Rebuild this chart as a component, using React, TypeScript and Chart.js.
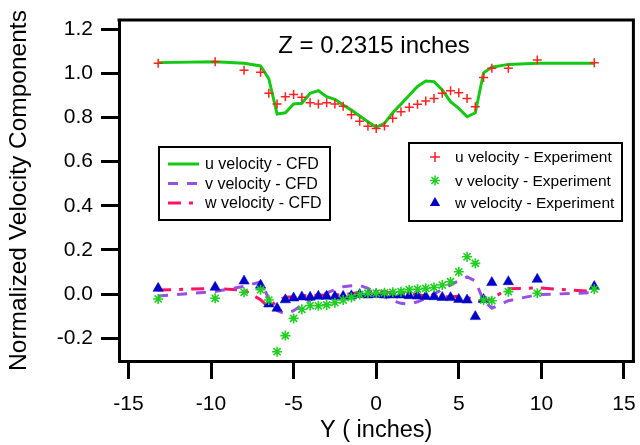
import React, { useEffect, useRef } from "react";
import { Chart, registerables } from "chart.js";

Chart.register(...registerables);

const FONT = "'Liberation Sans', Arial, Helvetica, sans-serif";

const yPos = [
  -13.2, -9.75, -8, -7, -6.5, -6, -5.5, -5, -4.5, -4, -3.5, -3, -2.5, -2, -1.5, -1, -0.5, 0,
  0.5, 1, 1.5, 2, 2.5, 3, 3.5, 4, 4.5, 5, 5.5, 6, 6.5, 7, 8, 9.75, 13.2,
];

const uCfd = [
  1.048, 1.052, 1.045, 1.033, 0.975, 0.815, 0.821, 0.861, 0.864, 0.909, 0.921, 0.894, 0.882, 0.856,
  0.833, 0.806, 0.78, 0.755, 0.773, 0.821, 0.86, 0.9, 0.94, 0.965, 0.962, 0.924, 0.871, 0.841, 0.803,
  0.821, 1.002, 1.027, 1.04, 1.045, 1.045,
];
const vCfd = [
  -0.009, 0.012, 0.035, 0.055, -0.02, -0.075, -0.09, -0.075, -0.05, -0.027, -0.01, 0.005, 0.02, 0.033,
  0.038, 0.04, 0.026, 0.005, -0.013, -0.03, -0.042, -0.045, -0.035, -0.02, 0.0, 0.022, 0.042, 0.06,
  0.078, 0.06, -0.03, -0.064, -0.03, -0.003, 0.007,
];
const wCfd = [
  0.018, 0.026, 0.018, -0.025, -0.06, -0.03, -0.014, -0.012, -0.008, -0.006, -0.005, -0.004, -0.003,
  -0.002, 0.002, 0.008, 0.01, 0.012, 0.01, 0.006, 0.004, 0.003, -0.003, -0.009, -0.012, -0.013, -0.012,
  -0.01, -0.015, -0.027, -0.035, -0.02, 0.024, 0.028, 0.012,
];
const uExp = [
  1.045, 1.052, 1.014, 1.004, 0.909, 0.861, 0.894, 0.904, 0.891, 0.866, 0.861, 0.866, 0.861, 0.85,
  0.812, 0.782, 0.76, 0.75, 0.761, 0.796, 0.826, 0.846, 0.859, 0.874, 0.886, 0.909, 0.921, 0.912,
  0.886, 0.848, 0.981, 1.022, 1.022, 1.06, 1.048,
];
const vExp = [
  -0.022, -0.019, 0.008, 0.02, -0.027, -0.261, -0.188, -0.11, -0.069, -0.052, -0.053, -0.049, -0.039,
  -0.027, -0.015, -0.002, 0.004, 0.004, 0.006, 0.008, 0.011, 0.02, 0.022, 0.026, 0.03, 0.041, 0.056,
  0.101, 0.169, 0.139, -0.027, -0.03, 0.011, 0.004, 0.022,
];
const wExp = [
  0.026, 0.031, 0.059, 0.04, -0.045, -0.064, -0.026, -0.018, -0.013, -0.014, -0.01, -0.01, -0.011,
  -0.01, -0.008, -0.002, -0.004, -0.002, -0.004, -0.004, -0.004, -0.007, -0.009, -0.011, -0.012,
  -0.015, -0.016, -0.024, -0.027, -0.102, -0.024, 0.052, 0.056, 0.067, 0.034,
];

const xTicks = [-15, -10, -5, 0, 5, 10, 15];
const yTicks = [-0.2, 0.0, 0.2, 0.4, 0.6, 0.8, 1.0, 1.2];

const titleText = "Z = 0.2315 inches";
const cfdLabels = ["u velocity - CFD", "v velocity - CFD", "w velocity - CFD"];
const expLabels = ["u velocity - Experiment", "v velocity - Experiment", "w velocity - Experiment"];

const GREEN = "#14c814";
const PURPLE = "#9650e6";
const PINK = "#ff1464";
const RED = "#ff2020";
const GREEN2 = "#20d020";
const BLUE = "#0000c8";

const pts = (vals: number[]) => yPos.map((x, i) => ({ x, y: vals[i] }));

const overlayPlugin = {
  id: "overlay",
  afterDraw(chart: any) {
    const ctx = chart.ctx as CanvasRenderingContext2D;
    const a = chart.chartArea;
    ctx.save();
    // box top & right
    ctx.strokeStyle = "#000";
    ctx.lineWidth = 3;
    ctx.beginPath();
    ctx.moveTo(a.left - 1.5, a.top);
    ctx.lineTo(a.right, a.top);
    ctx.lineTo(a.right, a.bottom + 1.5);
    ctx.stroke();

    // title
    ctx.fillStyle = "#000";
    ctx.font = `24px ${FONT}`;
    ctx.textAlign = "center";
    ctx.textBaseline = "alphabetic";
    ctx.fillText(titleText, 374, 53);

    // left legend
    ctx.font = `16px ${FONT}`;
    ctx.textAlign = "left";
    ctx.textBaseline = "middle";
    ctx.fillStyle = "#fff";
    ctx.fillRect(159, 147, 171, 73);
    ctx.lineWidth = 2;
    ctx.strokeStyle = "#000";
    ctx.strokeRect(159, 147, 171, 73);
    const lrows = [164, 183.5, 203];
    const lstyles = [
      { c: GREEN, d: [] as number[] },
      { c: PURPLE, d: [10, 9] },
      { c: PINK, d: [13, 8, 4, 8] },
    ];
    lrows.forEach((ry, i) => {
      ctx.strokeStyle = lstyles[i].c;
      ctx.lineWidth = 3;
      ctx.setLineDash(lstyles[i].d);
      ctx.beginPath();
      ctx.moveTo(168, ry);
      ctx.lineTo(199, ry);
      ctx.stroke();
      ctx.setLineDash([]);
      ctx.fillStyle = "#000";
      ctx.fillText(cfdLabels[i], 205, ry + 1);
    });

    // right legend
    ctx.font = `15.5px ${FONT}`;
    ctx.fillStyle = "#fff";
    ctx.fillRect(409, 143, 213, 78);
    ctx.lineWidth = 2;
    ctx.strokeStyle = "#000";
    ctx.strokeRect(409, 143, 213, 78);
    const rrows = [157, 180.5, 203];
    const mx = 435;
    // plus
    ctx.strokeStyle = RED;
    ctx.lineWidth = 1.5;
    ctx.beginPath();
    ctx.moveTo(mx - 5, rrows[0]);
    ctx.lineTo(mx + 5, rrows[0]);
    ctx.moveTo(mx, rrows[0] - 5);
    ctx.lineTo(mx, rrows[0] + 5);
    ctx.stroke();
    // asterisk
    ctx.strokeStyle = GREEN2;
    ctx.beginPath();
    for (let k = 0; k < 4; k++) {
      const ang = (k * Math.PI) / 4;
      ctx.moveTo(mx - 5 * Math.cos(ang), rrows[1] - 5 * Math.sin(ang));
      ctx.lineTo(mx + 5 * Math.cos(ang), rrows[1] + 5 * Math.sin(ang));
    }
    ctx.stroke();
    // triangle
    ctx.fillStyle = BLUE;
    const r = 6;
    ctx.beginPath();
    ctx.moveTo(mx, rrows[2] - r);
    ctx.lineTo(mx + r * 0.866, rrows[2] + r / 2);
    ctx.lineTo(mx - r * 0.866, rrows[2] + r / 2);
    ctx.closePath();
    ctx.fill();
    ctx.fillStyle = "#000";
    rrows.forEach((ry, i) => ctx.fillText(expLabels[i], 455, ry + 1));
    ctx.restore();
  },
};

export default function App() {
  const ref = useRef<HTMLCanvasElement | null>(null);
  useEffect(() => {
    if (!ref.current) return;
    const chart = new Chart(ref.current, {
      type: "line",
      data: {
        datasets: [
          {
            label: "u velocity - Experiment",
            data: pts(uExp),
            showLine: false,
            pointStyle: "cross",
            pointRadius: 4.5,
            borderColor: RED,
            backgroundColor: RED,
            pointBorderWidth: 1.5,
            order: 0,
          },
          {
            label: "v velocity - Experiment",
            data: pts(vExp),
            showLine: false,
            pointStyle: "star",
            pointRadius: 5,
            borderColor: GREEN2,
            backgroundColor: GREEN2,
            pointBorderWidth: 1.6,
            order: 0,
          },
          {
            label: "w velocity - Experiment",
            data: pts(wExp),
            showLine: false,
            pointStyle: "triangle",
            pointRadius: 6,
            borderColor: BLUE,
            backgroundColor: BLUE,
            pointBorderWidth: 0.5,
            order: 0,
          },
          {
            label: "u velocity - CFD",
            data: pts(uCfd),
            borderColor: GREEN,
            borderWidth: 3,
            pointRadius: 0,
            tension: 0,
            order: 1,
          },
          {
            label: "v velocity - CFD",
            data: pts(vCfd),
            borderColor: PURPLE,
            borderWidth: 3,
            borderDash: [10, 9],
            pointRadius: 0,
            tension: 0,
            order: 1,
          },
          {
            label: "w velocity - CFD",
            data: pts(wCfd),
            borderColor: PINK,
            borderWidth: 3,
            borderDash: [13, 8, 4, 8],
            pointRadius: 0,
            tension: 0,
            order: 1,
          },
        ],
      },
      options: {
        animation: false,
        responsive: false,
        devicePixelRatio: 1,
        layout: { padding: { top: 20, right: 5, left: 0, bottom: 0 } },
        plugins: { legend: { display: false }, tooltip: { enabled: false }, title: { display: false } },
        scales: {
          x: {
            type: "linear",
            min: -15.57,
            max: 15.57,
            afterBuildTicks: (s: any) => {
              s.ticks = xTicks.map((v) => ({ value: v }));
            },
            afterFit: (s: any) => {
              s.height = 84;
              s.paddingLeft = 0;
              s.paddingRight = 0;
            },
            ticks: {
              font: { size: 21, family: FONT },
              color: "#000",
              padding: 13,
              maxRotation: 0,
              callback: (v: any) => String(v),
            },
            grid: { drawOnChartArea: false, drawTicks: true, tickLength: 18, lineWidth: 3, color: "#000" },
            border: { display: true, width: 3, color: "#000" },
            title: {
              display: true,
              text: "Y ( inches)",
              font: { size: 23.5, family: FONT },
              color: "#000",
              padding: { top: 0, bottom: 0 },
            },
          },
          y: {
            type: "linear",
            min: -0.303,
            max: 1.241,
            afterBuildTicks: (s: any) => {
              s.ticks = yTicks.map((v) => ({ value: v }));
            },
            afterFit: (s: any) => {
              s.width = 119;
              s.paddingTop = 0;
              s.paddingBottom = 0;
            },
            ticks: {
              font: { size: 21, family: FONT },
              color: "#000",
              padding: 8,
              callback: (v: any) => Number(v).toFixed(1),
            },
            grid: { drawOnChartArea: false, drawTicks: true, tickLength: 18, lineWidth: 3, color: "#000" },
            border: { display: true, width: 3, color: "#000" },
            title: {
              display: true,
              text: "Normalized Velocity Components",
              font: { size: 24.5, family: FONT },
              color: "#000",
              padding: { top: 5, bottom: 0 },
            },
          },
        },
      },
      plugins: [overlayPlugin],
    } as any);
    return () => chart.destroy();
  }, []);
  return (
    <div style={{ position: "absolute", left: 0, top: 0, width: 640, height: 445, background: "#fff" }}>
      <canvas ref={ref} width={640} height={445} />
    </div>
  );
}
